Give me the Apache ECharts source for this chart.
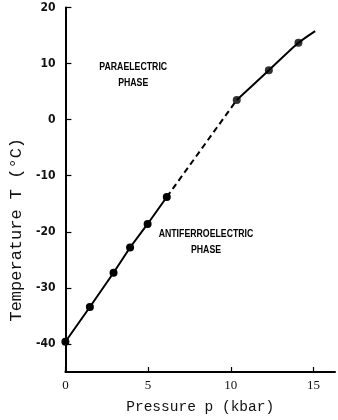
<!DOCTYPE html>
<html>
<head>
<meta charset="utf-8">
<script src="https://cdn.jsdelivr.net/npm/echarts@6/dist/echarts.min.js"></script>
<style>
  html, body { margin: 0; padding: 0; background: #fff; }
  #chart { width: 338px; height: 420px; }
</style>
</head>
<body>
<div id="chart"></div>
<script>
// Measured transition points of the phase boundary
const pressure = [0, 1.48, 2.91, 3.91, 4.97, 6.13, 10.36, 12.3, 14.09];
const temperature = [-39.6, -33.4, -27.3, -22.8, -18.6, -13.8, 3.5, 8.8, 13.7];
// Where the drawn upper curve stops
const curveEndP = 15.1;
const curveEndT = 15.8;
// Tick values
const xTicks = [0, 5, 10, 15];
const yTicks = [-40, -30, -20, -10, 0, 10, 20];
// Phase region labels
const phaseLabels = [
  { text: 'PARAELECTRIC\nPHASE', p: 4.1, t: 8.0 },
  { text: 'ANTIFERROELECTRIC\nPHASE', p: 8.5, t: -21.7 }
];

const pts = pressure.map((p, i) => [p, temperature[i]]);
const lower = pts.slice(0, 6);
const bridge = pts.slice(5, 7);
const upper = pts.slice(6).concat([[curveEndP, curveEndT]]);

const chart = echarts.init(document.getElementById('chart'));
const lineStyle = { color: '#000', width: 2 };
const condensed = "'DejaVu Sans Condensed', 'DejaVu Sans', sans-serif";

chart.setOption({
  animation: false,
  backgroundColor: '#fff',
  grid: { left: 63, top: 7.5, right: 3, bottom: 44, containLabel: false },
  xAxis: {
    type: 'value', min: 0, max: 16.3,
    name: 'Pressure p (kbar)', nameLocation: 'middle', nameGap: 28,
    nameTextStyle: { fontFamily: 'Liberation Mono', fontSize: 14.5, color: '#111' },
    axisLine: { onZero: false, lineStyle: { color: '#000', width: 2 } },
    axisTick: { inside: true, length: 5, customValues: xTicks, lineStyle: { color: '#000', width: 1.2 } },
    axisLabel: { customValues: xTicks, margin: 7, fontFamily: 'Liberation Serif', fontSize: 13, color: '#111' },
    splitLine: { show: false }
  },
  yAxis: {
    type: 'value', min: -45, max: 20,
    name: 'Temperature T (°C)', nameLocation: 'middle', nameGap: 28, nameRotate: 90,
    nameTextStyle: { fontFamily: 'Liberation Mono', fontSize: 17, color: '#111', padding: [0, 80, 0, 0] },
    axisLine: { onZero: false, lineStyle: { color: '#000', width: 2 } },
    axisTick: { inside: true, length: 6, customValues: yTicks, lineStyle: { color: '#000', width: 1.2 } },
    axisLabel: { customValues: yTicks, margin: 10, fontFamily: condensed, fontSize: 12, fontWeight: 'bold', color: '#111' },
    splitLine: { show: false }
  },
  series: [
    {
      type: 'line', data: lower, symbol: 'circle', symbolSize: 8,
      itemStyle: { color: '#000' }, lineStyle: lineStyle, z: 3
    },
    {
      type: 'line', data: bridge, symbol: 'none',
      lineStyle: { color: '#000', width: 2, type: [6, 4] }, z: 2
    },
    {
      type: 'line', data: upper, smooth: 0.25, symbol: 'none',
      lineStyle: lineStyle, z: 2
    },
    {
      type: 'scatter', data: pts.slice(6), symbol: 'circle', symbolSize: 8,
      itemStyle: { color: '#000' }, z: 4
    }
  ]
});

chart.setOption({
  graphic: phaseLabels.map(l => {
    const [px, py] = chart.convertToPixel({ gridIndex: 0 }, [l.p, l.t]);
    return {
      type: 'text', x: px, y: py, scaleX: 0.76,
      style: {
        text: l.text, align: 'center', verticalAlign: 'middle',
        fontFamily: 'Liberation Sans', fontSize: 11.5, fontWeight: 'bold', lineHeight: 16,
        fill: '#000'
      }
    };
  })
});
</script>
</body>
</html>
